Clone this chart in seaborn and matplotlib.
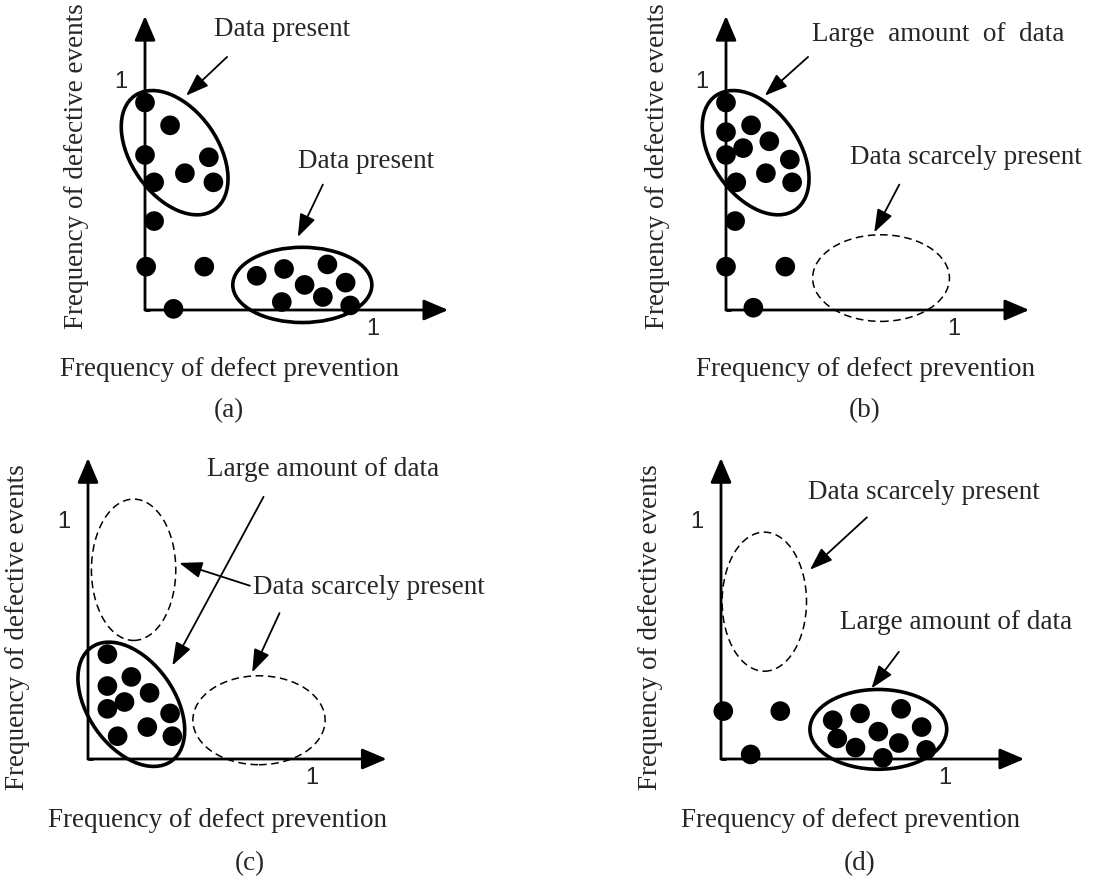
import numpy as np
import pandas as pd
import matplotlib
matplotlib.use("Agg")
import matplotlib.pyplot as plt
from matplotlib.patches import Ellipse
import seaborn as sns

sns.set_theme(style="white")
plt.rcParams['font.family'] = ['Liberation Serif', 'DejaVu Serif']

# ---------------- data (conceptual points, in axis units 0..1) ----------------
a_x = [0.00, 0.11, 0.00, 0.28, 0.04, 0.175, 0.30, 0.04, 0.005, 0.26, 0.125,
       0.49, 0.61, 0.80, 0.70, 0.88, 0.60, 0.78, 0.90]
a_y = [0.91, 0.81, 0.68, 0.67, 0.56, 0.60, 0.56, 0.39, 0.19, 0.19, 0.005,
       0.15, 0.18, 0.20, 0.11, 0.12, 0.035, 0.057, 0.02]

b_x = [0.00, 0.11, 0.00, 0.19, 0.075, 0.00, 0.28, 0.175, 0.045, 0.29, 0.04, 0.00, 0.26, 0.12]
b_y = [0.91, 0.81, 0.78, 0.74, 0.71, 0.68, 0.66, 0.60, 0.56, 0.56, 0.39, 0.19, 0.19, 0.01]

c_x = [0.085, 0.19, 0.085, 0.27, 0.16, 0.085, 0.36, 0.26, 0.13, 0.37]
c_y = [0.46, 0.36, 0.32, 0.29, 0.25, 0.22, 0.20, 0.14, 0.10, 0.10]

d_x = [0.01, 0.26, 0.13, 0.49, 0.61, 0.79, 0.51, 0.69, 0.88, 0.59, 0.78, 0.71, 0.90]
d_y = [0.21, 0.21, 0.02, 0.17, 0.20, 0.22, 0.09, 0.12, 0.14, 0.05, 0.07, 0.005, 0.04]

panel_names = ["(a)", "(b)", "(c)", "(d)"]
x_label = "Frequency of defect prevention"
y_label = "Frequency of defective events"
tick_label = "1"

df = pd.concat([
    pd.DataFrame({"panel": "(a)", "x": a_x, "y": a_y}),
    pd.DataFrame({"panel": "(b)", "x": b_x, "y": b_y}),
    pd.DataFrame({"panel": "(c)", "x": c_x, "y": c_y}),
    pd.DataFrame({"panel": "(d)", "x": d_x, "y": d_y}),
])

# ---------------- layout ----------------
W, H = 1096, 876
DPI = 100
S = 228.0  # pixels per axis unit

# origin pixel (x, y from top) and region (x0, y0, x1, y1) for each panel
layout = {
    "(a)": dict(origin=(145, 310), region=(0, 0, 548, 438)),
    "(b)": dict(origin=(726, 310), region=(548, 0, 1096, 438)),
    "(c)": dict(origin=(88, 759), region=(0, 438, 548, 876)),
    "(d)": dict(origin=(721, 759), region=(548, 438, 1096, 876)),
}

fig = plt.figure(figsize=(W / DPI, H / DPI), dpi=DPI)
fig.patch.set_facecolor("white")

FS = 19.5
FS1 = 17

axes = {}
for name in panel_names:
    ox, oy = layout[name]["origin"]
    x0, y0, x1, y1 = layout[name]["region"]
    ax = fig.add_axes([x0 / W, 1 - y1 / H, (x1 - x0) / W, (y1 - y0) / H])
    ax.set_xlim((x0 - ox) / S, (x1 - ox) / S)
    ax.set_ylim((oy - y1) / S, (oy - y0) / S)
    ax.axis("off")
    axes[name] = ax

    # axes with arrows
    ax_arrow = dict(arrowstyle="-|>,head_length=0.75,head_width=0.32", color="black",
                    lw=2.0, shrinkA=0, shrinkB=0, mutation_scale=20)
    ymax = 1.29 if name in ("(a)", "(b)") else 1.32
    xmax = 1.33 if name != "(c)" else 1.31
    ax.annotate("", xy=(0, ymax), xytext=(0, 0), arrowprops=ax_arrow, annotation_clip=False)
    ax.annotate("", xy=(xmax, 0), xytext=(0, 0), arrowprops=ax_arrow, annotation_clip=False)
    ax.plot([0, 0.02], [0, 0], color="black", lw=2.0, solid_capstyle="butt")

    ax.text(-0.105, 1.0 if name in ("(a)", "(b)") else 1.04, tick_label, family="Liberation Sans",
            fontsize=FS1, ha="center", va="center")
    ax.text(1.0 if name in ("(a)", "(b)") else 0.98, -0.085, tick_label, family="Liberation Sans",
            fontsize=FS1, ha="center", va="center")

    sub = df[df["panel"] == name]
    sns.scatterplot(data=sub, x="x", y="y", ax=ax, color="black", s=200,
                    edgecolor="none", legend=False, zorder=3, clip_on=False)

# text positions
lab = {
    "(a)": dict(ylab=(-0.30, 0.63), xlab=(0.37, -0.26), name=(0.37, -0.44)),
    "(b)": dict(ylab=(-0.30, 0.63), xlab=(0.61, -0.26), name=(0.61, -0.44)),
    "(c)": dict(ylab=(-0.31, 0.58), xlab=(0.57, -0.27), name=(0.71, -0.46)),
    "(d)": dict(ylab=(-0.31, 0.58), xlab=(0.57, -0.27), name=(0.61, -0.46)),
}
for name in panel_names:
    ax = axes[name]
    p = lab[name]
    ax.text(*p["ylab"], y_label, rotation=90, ha="center", va="center", fontsize=FS, clip_on=False)
    ax.text(*p["xlab"], x_label, ha="center", va="center", fontsize=FS, clip_on=False)
    ax.text(*p["name"], name, ha="center", va="center", fontsize=FS, clip_on=False)

solid = dict(fill=False, ec="black", lw=2.6)
dashed = dict(fill=False, ec="black", lw=1.1, ls=(0, (5, 3)))


def ell(ax, c, w, h, ang, style):
    ax.add_patch(Ellipse(c, w, h, angle=ang, **style, clip_on=False))


arr = dict(arrowstyle="-|>,head_length=0.7,head_width=0.25", color="black", lw=1.3,
           shrinkA=0, shrinkB=0, mutation_scale=20)


def note(ax, txt, tpos, tail, tip, **kw):
    if txt:
        ax.text(*tpos, txt, ha="center", va="center", fontsize=FS, clip_on=False, **kw)
    ax.annotate("", xy=tip, xytext=tail, arrowprops=arr, annotation_clip=False)


# (a)
ax = axes["(a)"]
ell(ax, (0.13, 0.69), 0.61, 0.38, -55, solid)
ell(ax, (0.69, 0.11), 0.61, 0.33, 0, solid)
note(ax, "Data present", (0.60, 1.23), (0.36, 1.11), (0.18, 0.94))
note(ax, "Data present", (0.97, 0.65), (0.78, 0.55), (0.67, 0.32))

# (b)
ax = axes["(b)"]
ell(ax, (0.13, 0.69), 0.61, 0.38, -55, solid)
ell(ax, (0.68, 0.14), 0.60, 0.38, 0, dashed)
note(ax, "Large  amount  of  data", (0.93, 1.21), (0.36, 1.11), (0.17, 0.94))
note(ax, "Data scarcely present", (1.05, 0.67), (0.76, 0.55), (0.65, 0.34))

# (c)
ax = axes["(c)"]
ell(ax, (0.19, 0.24), 0.61, 0.38, -55, solid)
ell(ax, (0.20, 0.83), 0.37, 0.62, 0, dashed)
ell(ax, (0.75, 0.17), 0.58, 0.39, 0, dashed)
note(ax, "Large amount of data", (1.03, 1.27), (0.77, 1.15), (0.37, 0.41))
note(ax, "Data scarcely present", (1.23, 0.75), (0.71, 0.76), (0.40, 0.86))
note(ax, None, None, (0.84, 0.64), (0.72, 0.38))

# (d)
ax = axes["(d)"]
ell(ax, (0.69, 0.13), 0.60, 0.35, 0, solid)
ell(ax, (0.19, 0.69), 0.37, 0.61, 0, dashed)
note(ax, "Data scarcely present", (0.89, 1.17), (0.64, 1.06), (0.39, 0.83))
note(ax, "Large amount of data", (1.03, 0.60), (0.78, 0.47), (0.66, 0.31))

fig.savefig("out.png", dpi=DPI, facecolor="white")
